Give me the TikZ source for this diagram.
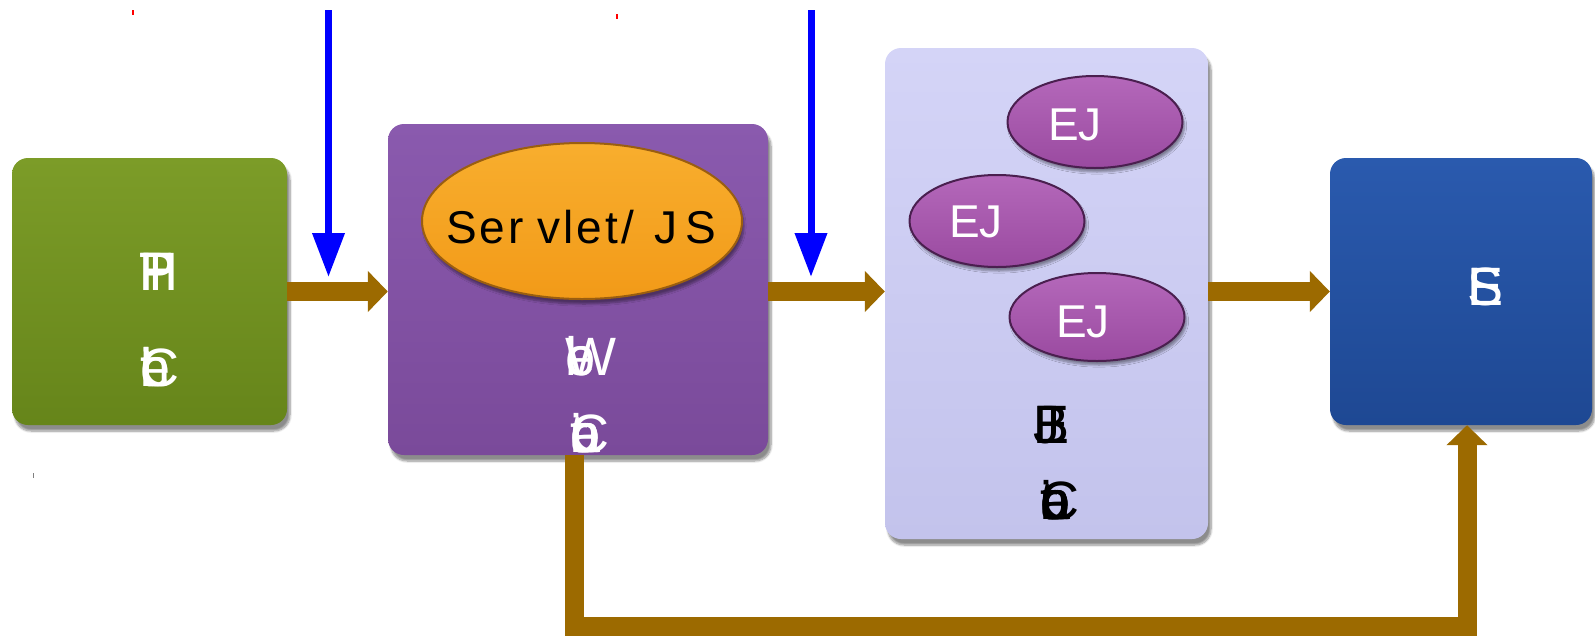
\documentclass[tikz,border=0pt]{standalone}
\usepackage{fontspec}
\setmainfont{Liberation Sans}
\usetikzlibrary{arrows.meta,shapes.geometric,shadows.blur}

\definecolor{flowbrown}{HTML}{9C6A00}
\definecolor{greenA}{HTML}{7C9C28}
\definecolor{greenB}{HTML}{66851A}
\definecolor{purpA}{HTML}{8A5AAE}
\definecolor{purpB}{HTML}{7A4A9A}
\definecolor{lilacA}{HTML}{D4D4F7}
\definecolor{lilacB}{HTML}{C3C3EC}
\definecolor{blueA}{HTML}{2A5AAE}
\definecolor{blueB}{HTML}{1E4893}
\definecolor{orangeA}{HTML}{F8AE2E}
\definecolor{orangeB}{HTML}{F29A18}
\definecolor{orangeRim}{HTML}{9A5E10}
\definecolor{beanA}{HTML}{B468BA}
\definecolor{beanB}{HTML}{9A4AA0}
\definecolor{beanRim}{HTML}{4A1F4F}

% glyphs of a word set one on top of the other
\makeatletter
\newcommand\piled[1]{\@tfor\pl@c:=#1\do{\rlap{\pl@c}}}
\makeatother

\tikzset{
  container/.style={rounded corners=16pt, inner sep=0pt,
    blur shadow={shadow xshift=3pt, shadow yshift=-6pt, shadow blur steps=8, shadow opacity=45}},
  flow/.style={draw=flowbrown, line width=19pt, line join=miter,
    -{Triangle[width=40pt,length=20pt]}},
  probe/.style={draw=blue, line width=7pt, -{Triangle[width=31pt,length=44pt]}},
  bean/.style={ellipse, inner sep=0pt, minimum width=175pt, minimum height=92pt,
    draw=beanRim, line width=2pt, top color=beanA, bottom color=beanB,
    blur shadow={shadow xshift=2pt, shadow yshift=-4pt, shadow blur steps=6, shadow opacity=40}},
  beantext/.style={anchor=base west, inner sep=0pt, text=white, font=\fontsize{46}{46}\selectfont},
  biglabel/.style={anchor=base west, inner sep=0pt, font=\fontsize{54}{54}\selectfont},
}

\begin{document}
\begin{tikzpicture}[x=1pt,y=-1pt]
\useasboundingbox (0,0) rectangle (1595,638);

% containers
\node[container, minimum width=275pt, minimum height=267pt,
      top color=greenA, bottom color=greenB] (client) at (149.5,291.5) {};
\node[container, minimum width=380pt, minimum height=331pt,
      top color=purpA, bottom color=purpB] (web) at (578,289.5) {};
\node[container, minimum width=323pt, minimum height=491pt,
      top color=lilacA, bottom color=lilacB] (ejb) at (1046.5,293.5) {};
\node[container, minimum width=262pt, minimum height=267pt,
      top color=blueA, bottom color=blueB] (eis) at (1461,291.5) {};

% servlet / JSP component
\node[ellipse, inner sep=0pt, minimum width=320pt, minimum height=156pt,
      draw=orangeRim, line width=2pt, top color=orangeA, bottom color=orangeB,
      blur shadow={shadow xshift=2pt, shadow yshift=-5pt, shadow blur steps=6, shadow opacity=40}]
      (servlet) at (582,221) {};
\node[anchor=base west, inner sep=0pt, font=\fontsize{46}{46}\selectfont]
      (servlettext) at (446,243)
      {S\kern3pt e\kern3pt r\kern14pt v\kern3pt l\kern3pt e\kern3pt t\kern3pt /\kern20pt J\kern8pt S};

% enterprise beans
\node[bean] (bean1) at (1095,122) {};
\node[bean] (bean2) at (997,221) {};
\node[bean, minimum height=88pt] (bean3) at (1097,317) {};
\node[beantext] (bean1text) at (1048,140) {EJ};
\node[beantext] (bean2text) at (949,237) {EJ};
\node[beantext] (bean3text) at (1056,337) {EJ};

% container captions
\node[biglabel, text=white] (clientA) at (139,290) {\piled{HTTP}};
\node[biglabel, text=white] (clientB) at (140,386) {\piled{Client}};
\node[biglabel, text=white] (webA) at (565,375) {\piled{Web}};
\node[biglabel, text=white] (webB) at (570,452) {\piled{Container}};
\node[biglabel, text=black] (ejbA) at (1033,443) {\piled{EJB}};
\node[biglabel, text=black] (ejbB) at (1040,519) {\piled{Container}};
\node[biglabel, text=white] (eisA) at (1467,305) {\piled{EIS}};

% request flow
\draw[flow] (client.east) -- (client.east -| web.west);
\draw[flow] (client.east -| web.east) -- (client.east -| ejb.west);
\draw[flow] (client.east -| ejb.east) -- (client.east -| eis.west);
\draw[flow] ([xshift=-4pt]web.south) -- ++(0,171) -| ([xshift=6pt]eis.south);

% incoming probes
\coordinate (probe1top) at (328.5,10);
\coordinate (probe1tip) at (328.5,277);
\coordinate (probe2top) at (811,10);
\coordinate (probe2tip) at (811,277);
\draw[probe] (probe1top) -- (probe1tip);
\draw[probe] (probe2top) -- (probe2tip);

% small stray marks
\draw[red, line width=1.2pt] (133,10) -- (133,15);
\draw[red, line width=1.2pt] (617,14) -- (617,19);
\draw[gray, line width=1pt] (33,473) -- (33,478);
\end{tikzpicture}
\end{document}
